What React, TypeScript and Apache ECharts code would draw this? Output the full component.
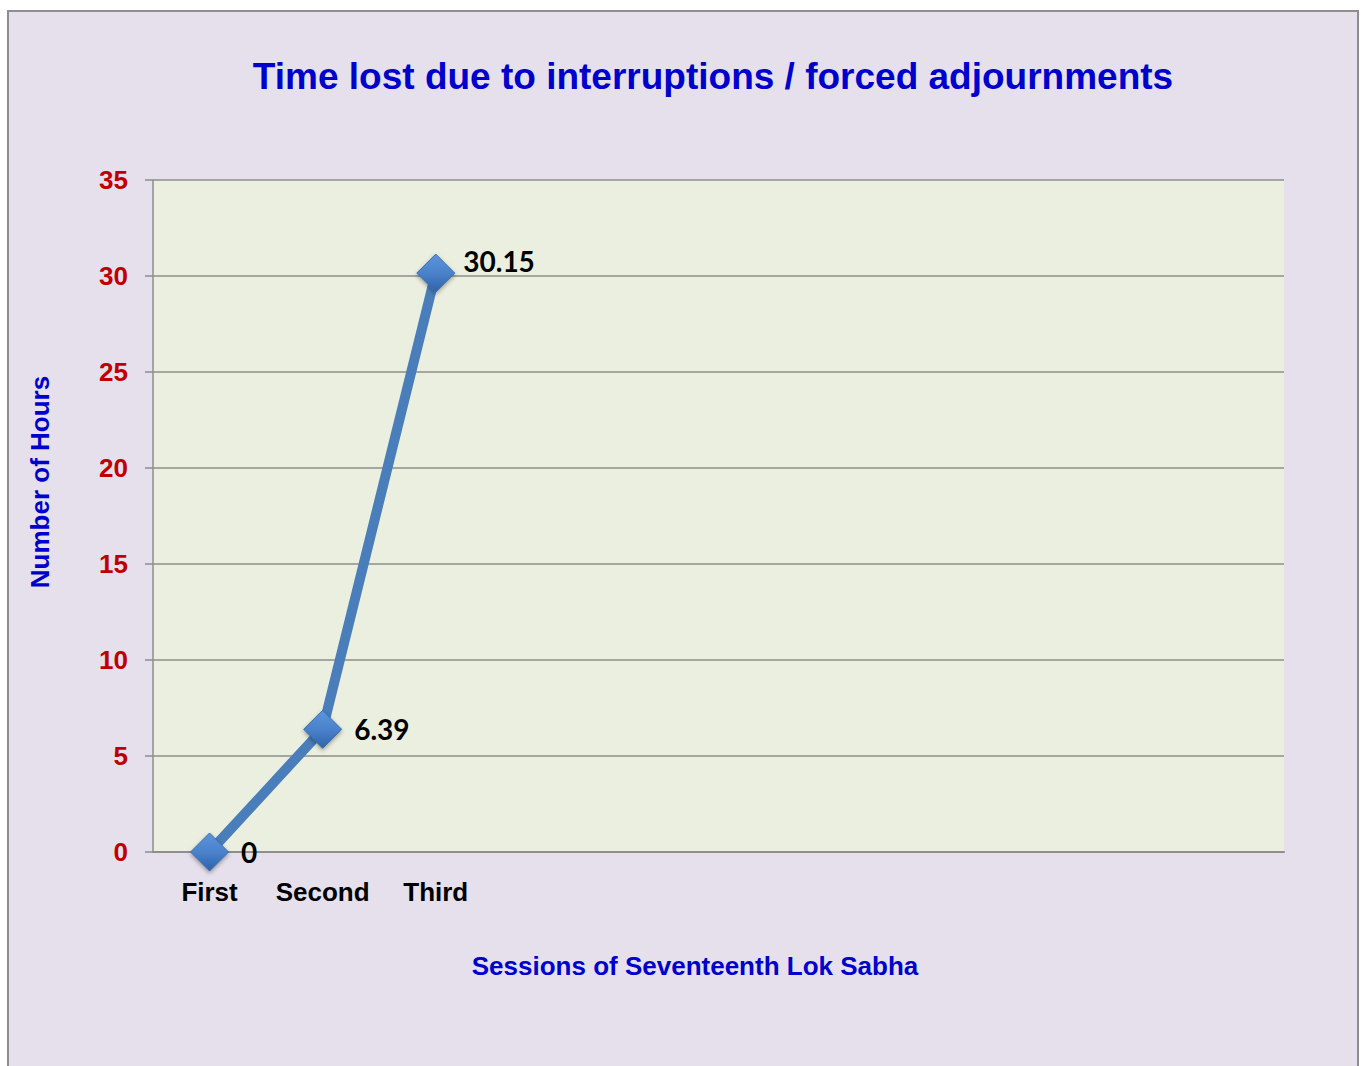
import React, { useEffect, useRef } from "react";
import * as echarts from "echarts";

const categories = ["First", "Second", "Third", "", "", "", "", "", "", ""];
const hours = [0, 6.39, 30.15];
const yTicks = { min: 0, max: 35, interval: 5 };
const titleText = "Time lost due to interruptions / forced adjournments";
const yName = "Number of Hours";
const xName = "Sessions of Seventeenth Lok Sabha";

export default function App() {
  const ref = useRef<HTMLDivElement>(null);
  useEffect(() => {
    const chart = echarts.init(ref.current!, null, { renderer: "svg" });
    const labelOffsets = [[0, 0], [0, 0], [-4, -12]];
    chart.setOption({
      animation: false,
      backgroundColor: "#ffffff",
      graphic: [
        {
          type: "rect",
          z: -10,
          shape: { x: 8, y: 11, width: 1350, height: 1080 },
          style: { fill: "#E5E0EC", stroke: "#8E8E8E", lineWidth: 2 },
        },
        {
          type: "text",
          x: 713,
          y: 76,
          style: {
            text: titleText,
            fill: "#0000CC",
            font: "bold 37px 'Liberation Sans', Arial, sans-serif",
            align: "center",
            verticalAlign: "middle",
          },
        },
        {
          type: "text",
          x: 40,
          y: 482,
          rotation: Math.PI / 2,
          style: {
            text: yName,
            fill: "#0000CC",
            font: "bold 26px 'Liberation Sans', Arial, sans-serif",
            align: "center",
            verticalAlign: "middle",
          },
        },
        {
          type: "text",
          x: 695,
          y: 966,
          style: {
            text: xName,
            fill: "#0000CC",
            font: "bold 26px 'Liberation Sans', Arial, sans-serif",
            align: "center",
            verticalAlign: "middle",
          },
        },
      ],
      grid: {
        left: 153,
        right: 82,
        top: 180,
        bottom: 214,
        show: true,
        backgroundColor: "#EBEFDF",
        borderWidth: 0,
      },
      xAxis: {
        type: "category",
        data: categories,
        boundaryGap: true,
        axisLine: { show: true, lineStyle: { color: "#8E8E8E", width: 2 } },
        axisTick: { show: false },
        axisLabel: {
          interval: 0,
          margin: 27,
          color: "#000000",
          fontWeight: "bold",
          fontSize: 26,
          fontFamily: "'Liberation Sans', Arial, sans-serif",
        },
        splitLine: { show: false },
      },
      yAxis: {
        type: "value",
        min: yTicks.min,
        max: yTicks.max,
        interval: yTicks.interval,
        axisLine: { show: true, lineStyle: { color: "#8E8E8E", width: 1.5 } },
        axisTick: { show: true, length: 8, lineStyle: { color: "#8E8E8E", width: 1.5 } },
        axisLabel: {
          margin: 25,
          color: "#C00000",
          fontWeight: "bold",
          fontSize: 26,
          fontFamily: "'Liberation Sans', Arial, sans-serif",
        },
        splitLine: { show: true, lineStyle: { color: "#8E8E8E", width: 1.5 } },
      },
      series: [
        {
          type: "line",
          data: hours.map((v, i) => ({
            value: v,
            label: { offset: labelOffsets[i] },
          })),
          lineStyle: { color: "#4A7EBB", width: 10 },
          symbol: "diamond",
          symbolSize: 38,
          itemStyle: {
            color: new echarts.graphic.LinearGradient(0, 0, 0, 1, [
              { offset: 0, color: "#5C95DB" },
              { offset: 0.5, color: "#4A82CB" },
              { offset: 1, color: "#2F62A8" },
            ]),
            borderColor: "#3A6CB0",
            borderWidth: 1,
            shadowColor: "rgba(0,0,0,0.35)",
            shadowBlur: 4,
            shadowOffsetY: 2,
          },
          label: {
            show: true,
            position: "right",
            distance: 12,
            color: "#000000",
            fontWeight: "bold",
            fontSize: 28,
            fontFamily: "Lato, 'Open Sans', sans-serif",
          },
        },
      ],
    });
    return () => chart.dispose();
  }, []);
  return (
    <div
      ref={ref}
      style={{ position: "absolute", left: 0, top: 0, width: 1366, height: 1066 }}
    />
  );
}
